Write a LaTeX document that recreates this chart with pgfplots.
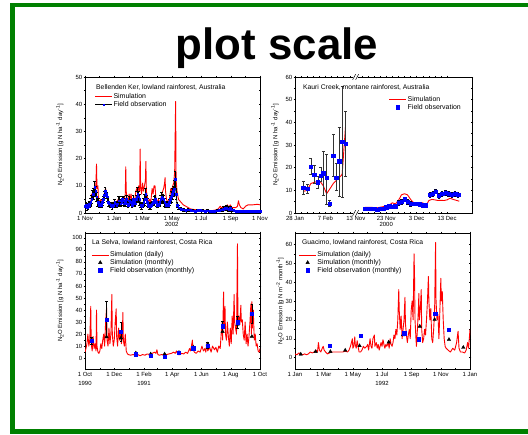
\documentclass[border=0pt]{standalone}
\usepackage{fontspec}
\setmainfont{Liberation Sans}
\usepackage{pgfplots}
\usepackage{pgfplotstable}
\pgfplotsset{compat=1.18}
\definecolor{framegreen}{RGB}{0,128,0}

% ---------- Panel 1 : Bellenden Ker ----------
\pgfplotstableread{
x y
0 3
3 2.5
6 3
9 2.5
12 4
14 7
16 5
18 8
20 10
22 6
24 18
25 9
27 10
28 5
30 4
33 5
36 3.5
39 5
41 8
43 9
45 7
47 5
50 4
53 3.5
56 3
60 4
63 3
66 4
69 5
72 4.5
75 4
78 5
80 6
82 5
84 7
85 17
86 8
88 5
90 4
92 7
94 5
96 7
98 4
100 5
103 3.5
106 8
108 9
110 7
112 10
114 8
115 23.5
116 10
118 7
120 11
122 8
124 10
126 12
127 19
128 8
130 6
132 4
135 5
137 3.5
140 9
142 7
144 10
146 10
148 5
150 4
153 5
156 3.5
159 6
162 8
164 9
166 11
167 13
168 8
170 5
173 4
176 5
179 9
181 8
183 10
185 11
187 15
189 41
190 12
192 8
195 5
200 4
205 3
210 2.5
215 2
220 1.5
230 1.2
240 1
250 1
260 0.8
270 1
278 1.5
282 2.5
285 1.8
290 2.5
293 2
297 3
300 2
303 3
306 2
310 2
315 2
318 2.5
320 4.5
322 3
325 2
330 1.5
335 2.5
340 3
350 3
360 3.2
365 3
}\simA
\pgfplotstableread{
x y e
0 2.5 1
2 3 1
4 2 1
6 2.5 1
8 3.5 1
10 3 1
12 4 1.5
14 5 1.5
16 7 1.5
18 7 2
20 9.5 2
22 8 2
24 6 1.5
26 4 1.5
28 4 1.5
30 3 1
32 3.5 1
34 3 1
36 4 1
38 5 1
40 6.5 1.5
42 8 1.5
44 7 1.5
46 6 1.5
48 4 1.5
50 3.5 1
53 3 1
56 2.5 1
58 3 1
60 3 1
62 4 1
64 3.5 1
66 3 1
68 3.5 1
70 4.5 1.5
72 4.5 1.5
74 3.5 1
76 4 1
78 5 1
80 4.5 1.5
82 3.5 1
84 4 1.5
86 5 1.5
88 3.5 1
90 3 1
92 4.5 1.5
94 4 1
96 4 1
98 3 1
100 5 1.5
102 4 1
104 3.5 1
106 5 1.5
108 6 2
110 7 2.5
112 6 2
114 5 2
116 3 1
118 2.5 1
120 3 1
122 4 1.5
124 5 2
126 7 2
128 5 1.5
130 4 1.5
132 3 1
134 2.5 1
136 2.5 1
138 3 1
140 3.5 1
142 4 1
144 4.5 1.5
146 5 1.5
148 4 1.5
150 3 1
152 3 1
154 3.5 1
156 4 1.5
158 5 1.5
160 6 1.5
162 5.5 1.5
164 5 1.5
166 4 1.5
168 3 1
170 3.5 1
172 3 1
174 3 1
176 4 1
178 5 1.5
180 6 2
182 7 2
184 8 2
186 9 3
188 12.5 3
190 7 2
192 3 1
195 2 0.8
200 1.5 0.5
205 1.2 0.4
210 1 0.4
215 1.2 0.4
220 1 0.4
225 0.9 0.3
230 0.8 0.3
235 1 0.4
240 1 0.4
245 0.9 0.3
250 0.8 0.3
255 0.9 0.3
260 0.7 0.3
265 0.8 0.3
270 0.8 0.3
275 0.9 0.3
280 1 0.4
284 1.2 0.5
288 1.5 0.8
292 1.8 0.8
295 2 1
298 1.6 0.8
300 1.5 0.8
303 1.8 0.8
306 1.2 0.5
310 1 0.4
315 0.8 0.3
320 0.8 0.3
325 0.7 0.3
330 0.8 0.3
335 0.8 0.3
340 0.7 0.3
345 0.7 0.3
350 0.8 0.3
355 0.8 0.3
360 0.7 0.3
365 0.8 0.3
}\obsA

% ---------- Panel 2 : Kauri Creek ----------
\pgfplotstableread{
x y
2.7 9.5
4 10
5.2 13
6.3 13.5
7.5 14
8.5 13.5
9.3 12
10.4 8.5
12.6 13
15.5 17
16.6 38
}\simBa
\pgfplotstableread{
x y
23 2.5
25 2.5
27 2.3
29 2.8
31 3.5
32 4.5
33 4
34 5.5
35 8
36 8.5
37 8
38 6
39 4.5
40 3.5
41 4
42 4.5
43 3
44 5.5
45 6
46 5.8
47 5.5
48 5.6
49 5.5
50 5.8
51 6.5
52 6
53 5.6
54 5.2
}\simBb
\pgfplotstableread{
x y lo hi
2.7 11.2 3 3
4.2 10.8 2 2
5.2 20.5 3.5 3.5
6.3 17 4 4
7.5 13.5 2.5 2.5
8.5 16.5 2.5 3.5
9.3 17.5 9.5 9.5
10.4 15.5 11.5 10.5
11.4 4.2 1.2 1.3
12.6 25.2 9.2 9.3
13.6 15.7 5.7 6.3
14.5 22.8 15.3 15.2
15.5 31.5 24.5 24.5
16.6 30.7 14.7 14.3
}\obsBa
\pgfplotstableread{
x y e
23 2 0.5
24 2 0.5
25 1.8 0.5
26 2 0.5
27 1.5 0.5
28 2 0.5
29 2 0.5
30 2.5 0.6
31 3 0.6
32 2.8 0.6
33 3 0.7
34 4.5 1
35 5 1
36 6 1
37 5 1
38 4 1
39 4 0.8
40 4 0.8
41 3.8 0.8
42 3.5 0.7
43 3.5 0.7
44.3 8 1
45.3 8.5 1
46.2 9.5 1
47.3 7.5 1
48.4 8.5 1
49.5 9 1
50.5 8.5 1
51.6 8 1
52.7 8.5 1
53.6 8 1
}\obsBb

% ---------- Panel 3 : La Selva ----------
\pgfplotstableread{
x y
0 5
2 8
4 12
6 20
8 10
10 15
12 43
13 12
15 6
17 18
19 8
21 12
23 6
24 40
25 10
27 5
29 4
31 6
33 12
35 8
37 15
39 20
41 10
43 30
45 42
46 15
48 10
50 25
52 12
54 20
56 53
57 20
59 10
61 15
63 30
65 41
66 18
68 10
70 25
72 15
74 20
76 12
78 20
79 38
80 15
82 10
84 20
86 6
88 4
90 3
95 2.5
100 3
105 2.5
110 3
115 2
120 3
125 2.5
130 3.5
135 3
140 4
145 5
148 4
150 7
152 3
155 2.5
160 3
165 2.5
170 3
175 3.5
180 4
185 5
188 4
191 6
194 3
198 3
202 4
206 3.5
210 5
214 4
218 8
220 6
222 10
224 15
225 8
228 5
232 4
236 6
240 5
244 10
247 6
250 8
252 5
254 12
256 6
260 9
263 5
266 10
270 7
273 9
276 5
279 10
282 8
284 20
286 30
287 15
289 55
290 25
292 43
293 20
295 15
297 30
299 18
301 10
303 25
305 12
307 35
309 20
311 53
312 30
314 25
316 20
318 95
319 30
321 35
323 28
325 44
326 30
328 32
330 20
332 15
334 30
336 12
338 20
340 10
342 18
344 30
346 45
347 20
348 47
349 25
351 40
353 15
355 20
357 10
359 12
361 6
363 5
365 8
}\simC
\pgfplotstableread{
x y
14 15.4
45 17.6
75 16.8
106 4.2
137 3.4
166 3.4
196 4.7
226 9.2
256 11.7
287 22
318 28
348 18
}\monC
\pgfplotstableread{
x y e
14 14.5 3
45 32 15
75 21.8 8
106 3.4 1
137 2.2 0.8
166 1 1
196 4.7 1
226 8.4 1.5
256 10.6 2.5
287 26.5 4
318 30 5
348 37 8
}\obsC

% ---------- Panel 4 : Guacimo ----------
\pgfplotstableread{
x y
0 2
4 1.5
8 2.5
12 2
16 1.5
20 2
24 1.5
28 2
32 3
36 2.5
40 3
44 4
47 3
49 8
51 4
54 3
57 5
59 6
61 4
64 3
68 2
72 2.5
76 3
80 3
85 3
90 3
95 3
100 3
105 3.5
110 3
113 4
116 6
118 8
120 10
121 5
123 6
125 11
126 7
128 5
130 9
132 6
134 3
137 3
140 4
143 6
146 5
150 6
152 7
154 4
157 10
159 6
161 5
163 10
166 12
167 6
170 8
172 5
174 7
176 4
178 6
180 8
182 6
184 9.5
186 7
188 5
190 7
192 6
195 8
197 5
199 10
201 7
203 6
205 8
207 12
209 10
211 15
213 12
215 20
217 36
218 25
220 15
222 22
224 10
226 15
228 20
230 32
231 18
233 12
235 8
237 12
239 15
241 10
243 25
245 30
247 20
249 55
250 43
251 20
253 10
254 6
256 15
258 25
259 34
260 20
262 25
264 36
265 15
267 8
269 10
271 15
273 12
275 20
277 30
279 43
280 30
282 20
284 26
286 10
288 8
290 15
292 25
294 61
295 30
297 20
299 23
301 10
303 25
305 42
306 30
308 35
310 20
312 10
314 6
316 5
320 4
325 3
330 5
334 4
338 8
341 14
343 5
346 3
350 3
355 2.5
358 4
361 8
363 5
366 15
}\simD
\pgfplotstableread{
x y
12 1.8
43 3.2
74 3.2
105 3.9
135 6.3
196 8.2
226 12.1
261 16.6
292 20.2
322 9.6
352 5.4
}\monD
\pgfplotstableread{
x y
73 6.4
137 11.6
228 13
259 9.8
293 23.2
322 14.8
}\obsD

\pgfplotsset{
  panel/.style={
    scale only axis, width=175bp, height=136bp, anchor=south west,
    axis line style={line width=0.6bp},
    every tick/.style={black, line width=0.45bp},
    major tick length=2.6bp, minor tick length=1.6bp,
    tick align=center, xtick pos=both, ytick pos=both,
    /pgf/number format/assume math mode=true,
    yticklabel style={font=\fontsize{6}{7}\selectfont, inner sep=1.2bp},
    xticklabel style={font=\fontsize{6}{6.5}\selectfont, align=center, inner sep=1.5bp},
    ylabel style={font=\fontsize{6}{7}\selectfont, anchor=center},
    legend style={draw=none, fill=none, font=\fontsize{7}{8}\selectfont,
      inner sep=0pt, row sep=-0.5bp, anchor=north west,
      nodes={inner sep=0.8bp}},
    legend cell align=left,
  },
}
\tikzset{
  ptitle/.style={font=\fontsize{6.8}{8}\selectfont, anchor=west, inner sep=0pt},
}

\begin{document}
\begin{tikzpicture}
\path[use as bounding box] (0bp,0bp) rectangle (528bp,435bp);
\fill[white] (0bp,0bp) rectangle (528bp,435bp);
\draw[framegreen, line width=4.5bp] (12.5bp,3.5bp) rectangle (545bp,430bp);
\node[font=\fontsize{44}{44}\selectfont\bfseries, anchor=base] at (277bp,375bp) {plot scale};

% Panel 1
\begin{axis}[panel, at={(85bp,222bp)},
  xmin=0, xmax=365, ymin=0, ymax=50,
  xtick={0,61,120,181,242,304,365},
  xticklabels={1 Nov, 1 Jan, 1 Mar, {1 May\\2002}, 1 Jul, 1 Sep, 1 Nov},
  minor xtick={30,92,150,212,273,334},
  ytick={0,10,20,30,40,50}, minor y tick num=1,
  ylabel={N\textsubscript{2}O Emission [g N ha\textsuperscript{-1} day\textsuperscript{-1}]},
  ylabel style={at={(axis description cs:-0.143,0.5)}},
  legend style={at={(axis description cs:0.055,0.885)}},
]
\addplot[red, line width=0.9bp, mark=none, line join=round] table[x=x,y=y] {\simA};
\addlegendentry{Simulation}
\addplot[black, line width=0.8bp, mark=square*, mark size=0.8bp,
  mark options={fill=blue, draw=blue, line width=0.2bp},
  error bars/.cd, y dir=both, y explicit,
  error bar style={black, line width=0.5bp},
  error mark options={black, rotate=90, mark size=1.3bp, line width=0.5bp}]
  table[x=x,y=y,y error=e] {\obsA};
\addlegendentry{Field observation}
\node[ptitle] at (axis description cs:0.063,0.92) {Bellenden Ker, lowland rainforest, Australia};
\end{axis}

% Panel 2
\begin{axis}[panel, at={(295bp,222bp)}, width=177bp, clip=false,
  xmin=0, xmax=58.2, ymin=0, ymax=60,
  xtick={0,10,20,30,40,50},
  xticklabels={28 Jan, 7 Feb, 13 Nov, {23 Nov\\2000}, 3 Dec, 13 Dec},
  minor x tick num=4,
  ytick={0,10,20,30,40,50,60}, minor y tick num=1,
  ylabel={N\textsubscript{2}O Emission [g N ha\textsuperscript{-1} day\textsuperscript{-1}]},
  ylabel style={at={(axis description cs:-0.113,0.5)}},
  legend style={at={(axis description cs:0.53,0.865)}},
]
\addplot[red, line width=0.9bp, mark=none, line join=round, forget plot] table[x=x,y=y] {\simBa};
\addplot[red, line width=0.9bp, mark=none, line join=round] table[x=x,y=y] {\simBb};
\addlegendentry{Simulation}
\addplot[only marks, mark=square*, mark size=1.7bp,
  mark options={fill=blue, draw=blue},
  error bars/.cd, y dir=both, y explicit,
  error bar style={black!80, line width=0.6bp},
  error mark options={black!80, rotate=90, mark size=1.4bp, line width=0.6bp}]
  table[x=x,y=y,y error plus=hi,y error minus=lo] {\obsBa};
\addlegendentry{Field observation}
\addplot[only marks, mark=square*, mark size=1.7bp,
  mark options={fill=blue, draw=blue}, forget plot,
  error bars/.cd, y dir=both, y explicit,
  error bar style={black!80!blue, line width=0.6bp},
  error mark options={black!80!blue, rotate=90, mark size=1.2bp, line width=0.6bp}]
  table[x=x,y=y,y error=e] {\obsBb};
\node[ptitle] at (axis description cs:0.045,0.92) {Kauri Creek, montane rainforest, Australia};
% axis break marks
\fill[white] (axis cs:20,60) ++(-2.5bp,-1.2bp) rectangle ++(5bp,2.4bp);
\fill[white] (axis cs:20,0) ++(-2.5bp,-1.2bp) rectangle ++(5bp,2.4bp);
\draw[black, line width=0.5bp] (axis cs:20,60) ++(-3.2bp,-2.8bp) -- ++(3bp,5.6bp);
\draw[black, line width=0.5bp] (axis cs:20,60) ++(-0.2bp,-2.8bp) -- ++(3bp,5.6bp);
\draw[black, line width=0.5bp] (axis cs:20,0) ++(-3.2bp,-2.8bp) -- ++(3bp,5.6bp);
\draw[black, line width=0.5bp] (axis cs:20,0) ++(-0.2bp,-2.8bp) -- ++(3bp,5.6bp);
\end{axis}

% Panel 3
\begin{axis}[panel, at={(85bp,66bp)},
  xmin=0, xmax=365, ymin=-9, ymax=104,
  xtick={0,61,123,182,243,304,365},
  xticklabels={{1 Oct\\[2.5bp]1990}, 1 Dec, {1 Feb\\[2.5bp]1991}, 1 Apr, 1 Jun, 1 Aug, 1 Oct},
  minor xtick={31,92,151,212,273,334},
  ytick={0,10,20,30,40,50,60,70,80,90,100}, minor y tick num=1,
  ylabel={N\textsubscript{2}O Emission [g N ha\textsuperscript{-1} day\textsuperscript{-1}]},
  ylabel style={at={(axis description cs:-0.143,0.5)}},
  legend style={at={(axis description cs:0.035,0.87)}},
]
\addplot[red, line width=0.9bp, mark=none, line join=round] table[x=x,y=y] {\simC};
\addlegendentry{Simulation (daily)}
\addplot[only marks, mark=triangle*, mark size=2bp, black] table[x=x,y=y] {\monC};
\addlegendentry{Simulation (monthly)}
\addplot[only marks, mark=square*, mark size=1.7bp,
  mark options={fill=blue, draw=blue},
  error bars/.cd, y dir=both, y explicit,
  error bar style={black, line width=0.6bp},
  error mark options={black, rotate=90, mark size=1.3bp, line width=0.6bp}]
  table[x=x,y=y,y error=e] {\obsC};
\addlegendentry{Field observation (monthly)}
\node[ptitle] at (axis description cs:0.04,0.93) {La Selva, lowland rainforest, Costa Rica};
\end{axis}

% Panel 4
\begin{axis}[panel, at={(295bp,66bp)}, width=175bp,
  xmin=0, xmax=366, ymin=-6, ymax=66,
  xtick={0,60,121,182,244,305,366},
  xticklabels={1 Jan, 1 Mar, 1 May, {1 Jul\\[3bp]1992}, 1 Sep, 1 Nov, 1 Jan},
  minor xtick={31,91,152,213,274,335},
  ytick={0,10,20,30,40,50,60}, minor y tick num=1,
  ylabel={N\textsubscript{2}O Emission [g N m\textsuperscript{-2} month\textsuperscript{-1}]},
  ylabel style={at={(axis description cs:-0.085,0.5)}},
  legend style={at={(axis description cs:0.02,0.87)}},
]
\addplot[red, line width=0.9bp, mark=none, line join=round] table[x=x,y=y] {\simD};
\addlegendentry{Simulation (daily)}
\addplot[only marks, mark=triangle*, mark size=2bp, black] table[x=x,y=y] {\monD};
\addlegendentry{Simulation (monthly)}
\addplot[only marks, mark=square*, mark size=1.7bp, mark options={fill=blue, draw=blue}] table[x=x,y=y] {\obsD};
\addlegendentry{Field observation (monthly)}
\node[ptitle] at (axis description cs:0.04,0.93) {Guacimo, lowland rainforest, Costa Rica};
\end{axis}
\end{tikzpicture}
\end{document}
